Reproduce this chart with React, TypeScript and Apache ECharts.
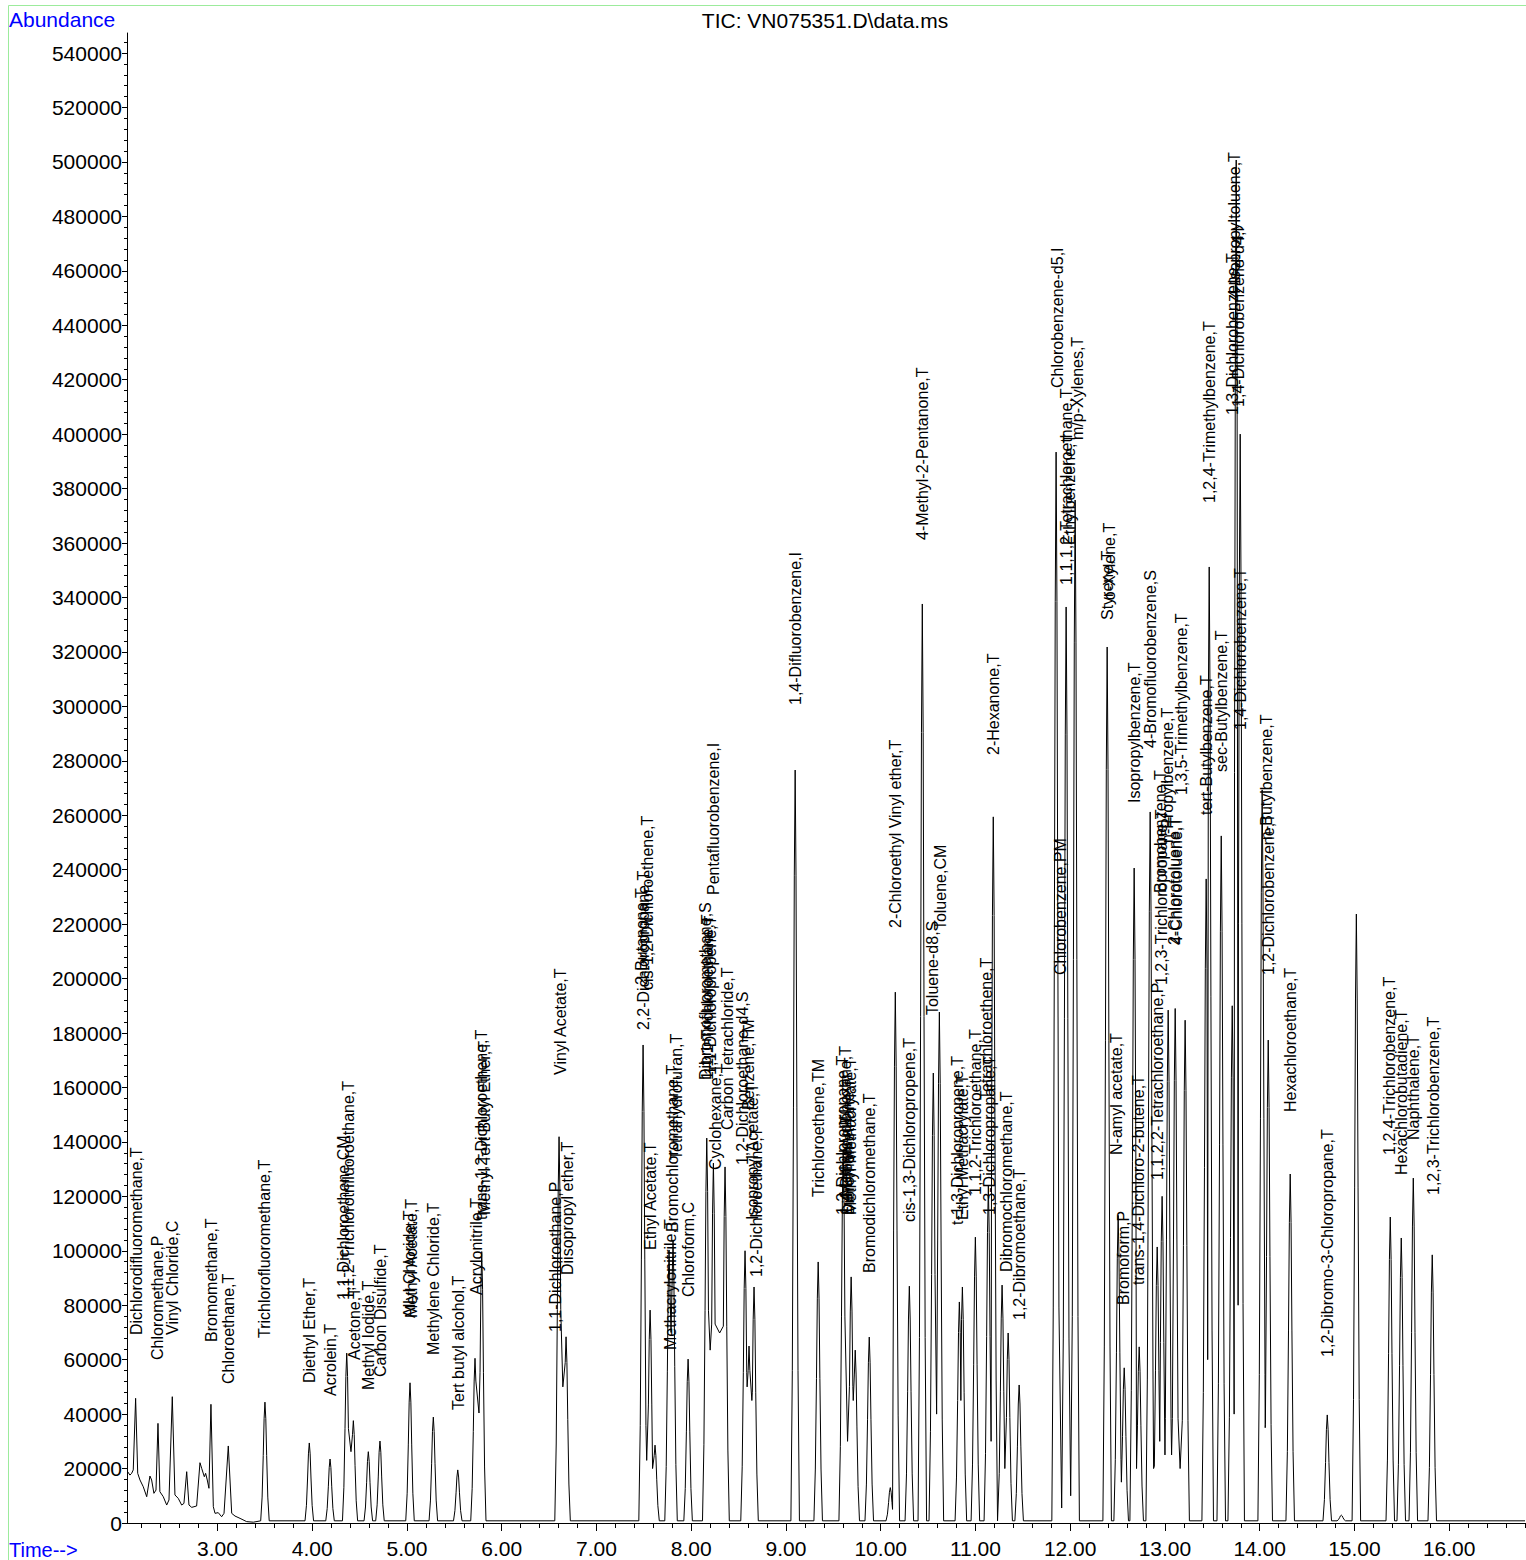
import React, { useEffect, useRef } from "react";
import * as echarts from "echarts";

// ---------- axis ranges & ticks ----------
const xMin = 2.045;
const xMax = 16.8;
const yMax = 547350;
const majorTimes = [3, 4, 5, 6, 7, 8, 9, 10, 11, 12, 13, 14, 15, 16];
const minorTimes = [
  2.2, 2.4, 2.6, 2.8, 3.2, 3.4, 3.6, 3.8, 4.2, 4.4, 4.6, 4.8, 5.2, 5.4, 5.6, 5.8,
  6.2, 6.4, 6.6, 6.8, 7.2, 7.4, 7.6, 7.8, 8.2, 8.4, 8.6, 8.8, 9.2, 9.4, 9.6, 9.8,
  10.2, 10.4, 10.6, 10.8, 11.2, 11.4, 11.6, 11.8, 12.2, 12.4, 12.6, 12.8, 13.2,
  13.4, 13.6, 13.8, 14.2, 14.4, 14.6, 14.8, 15.2, 15.4, 15.6, 15.8, 16.2, 16.4,
  16.6, 16.8,
];
const majorAbundance = [
  0, 20000, 40000, 60000, 80000, 100000, 120000, 140000, 160000, 180000, 200000,
  220000, 240000, 260000, 280000, 300000, 320000, 340000, 360000, 380000, 400000,
  420000, 440000, 460000, 480000, 500000, 520000, 540000,
];
const minorStep = 4000;

// ---------- signal data ----------
const baseline = 800;
// noisy early part of the trace, [time, abundance]
const earlyTrace: [number, number][] = [
  [2.052, 18850], [2.076, 17600], [2.094, 18250], [2.111, 19500], [2.136, 45800],
  [2.158, 18250], [2.182, 15800], [2.217, 13300], [2.253, 9650], [2.287, 17250],
  [2.305, 15800], [2.329, 10900], [2.351, 12100], [2.372, 36600], [2.392, 11500],
  [2.428, 9650], [2.464, 6600], [2.488, 8450], [2.523, 46400], [2.551, 10300],
  [2.586, 9050], [2.622, 6600], [2.646, 7200], [2.675, 18850], [2.699, 6600],
  [2.728, 5750], [2.78, 6250], [2.815, 22150], [2.833, 20100], [2.861, 17000],
  [2.875, 18250], [2.892, 15800], [2.91, 12750], [2.931, 43600], [2.956, 6000],
  [2.974, 3550], [3.008, 3800], [3.044, 2300], [3.069, 3550], [3.114, 28300],
  [3.15, 3550], [3.185, 2550], [3.238, 1700], [3.308, 500], [3.378, 300],
];
// peak apexes [retention time, abundance]
const peaks: [number, number][] = [
  [3.501, 44400], [3.969, 29400], [4.188, 23500], [4.364, 62400], [4.434, 37600],
  [4.592, 26200], [4.715, 30100], [5.032, 51500], [5.278, 38900], [5.536, 19500],
  [5.718, 60500], [5.789, 99700], [6.605, 141900], [6.679, 68400], [7.492, 175600],
  [7.566, 78200], [7.618, 28600], [7.766, 100300], [7.808, 104000], [7.967, 60200],
  [8.164, 141400], [8.234, 132200], [8.357, 130800], [8.568, 100000], [8.61, 65000],
  [8.663, 86700], [9.097, 276600], [9.34, 95900], [9.604, 137000], [9.688, 90400],
  [9.731, 63500], [9.879, 68300], [10.101, 13000], [10.154, 195000], [10.302, 87000],
  [10.439, 337600], [10.555, 165300], [10.619, 187700], [10.83, 81200], [10.862, 86700],
  [10.999, 105000], [11.136, 124000], [11.188, 259400], [11.281, 87400], [11.345, 69800],
  [11.461, 50700], [11.851, 393400], [11.957, 336500], [12.052, 375800], [12.39, 321800],
  [12.506, 113000], [12.57, 57000], [12.675, 240600], [12.728, 64700], [12.844, 261200],
  [12.918, 101400], [12.97, 120000], [13.034, 188400], [13.108, 189000], [13.213, 184700],
  [13.435, 236600], [13.467, 351200], [13.594, 252400], [13.71, 190000], [13.752, 500700],
  [13.794, 400000], [14.026, 269300], [14.09, 177400], [14.322, 128200], [14.713, 39700],
  [14.861, 2900], [15.02, 223700], [15.378, 112400], [15.494, 104700], [15.621, 126700],
  [15.821, 98500],
];
// valleys between co-eluting peaks [time, abundance]
const valleys: [number, number][] = [
  [4.409, 26200], [5.76, 40400], [6.645, 50000], [7.53, 23000], [7.592, 20000],
  [7.787, 70000], [8.2, 63500], [8.3, 69800], [8.59, 50000], [8.64, 45000],
  [9.65, 30000], [9.71, 45000], [10.125, 5000], [10.59, 40000], [10.846, 45000],
  [11.165, 30000], [11.31, 20000], [11.91, 5500], [12.005, 10000], [12.54, 15000],
  [12.7, 20000], [12.88, 20000], [12.945, 30000], [13.0, 25000], [13.07, 25000],
  [13.16, 20000], [13.451, 60000], [13.73, 40000], [13.772, 80000], [14.058, 35000],
];

// compound labels [name, retention time, abundance at label start]
const peakLabels: [string, number, number][] = [
  ["Dichlorodifluoromethane,T", 2.14, 69060],
  ["Chloromethane,P", 2.372, 59880],
  ["Vinyl Chloride,C", 2.52, 69060],
  ["Bromomethane,T", 2.932, 66490],
  ["Chloroethane,T", 3.111, 51060],
  ["Trichlorofluoromethane,T", 3.501, 67960],
  ["Diethyl Ether,T", 3.966, 51430],
  ["Acrolein,T", 4.188, 46650],
  ["1,1-Dichloroethene,CM", 4.335, 81920],
  ["1,1,2-Trichlorotrifluoroethane,T", 4.378, 81920],
  ["Acetone,T", 4.441, 59880],
  ["Methyl Iodide,T", 4.589, 48860],
  ["Carbon Disulfide,T", 4.716, 53630],
  ["Allyl Chloride,T", 5.022, 75300],
  ["Methyl Acetate,T", 5.043, 75300],
  ["Methylene Chloride,T", 5.276, 61720],
  ["Tert butyl alcohol,T", 5.539, 41510],
  ["Acrylonitrile,T", 5.729, 83760],
  ["trans-1,2-Dichloroethene,T", 5.782, 111300],
  ["Methyl Tert Butyl Ether,T", 5.813, 113150],
  ["1,1-Dichloroethane,P", 6.563, 70160],
  ["Vinyl Acetate,T", 6.616, 164600],
  ["Diisopropyl ether,T", 6.69, 91100],
  ["2,2-Dichloropropane,T", 7.492, 181100],
  ["cis-1,2-Dichloroethene,T", 7.534, 195800],
  ["2-Butanone,T", 7.47, 197600],
  ["Ethyl Acetate,T", 7.566, 100300],
  ["Methacrylonitrile,T", 7.777, 63550],
  ["Bromochloromethane,T", 7.798, 106900],
  ["Tetrahydrofuran,T", 7.84, 133350],
  ["Chloroform,C", 7.967, 83020],
  ["Dibromofluoromethane,S", 8.146, 162700],
  ["1,1,1-Trichloroethane,T", 8.167, 162700],
  ["1,1-Dichloropropene,T", 8.199, 164600],
  ["Cyclohexane,T", 8.252, 129700],
  ["Pentafluorobenzene,I", 8.231, 230700],
  ["Carbon Tetrachloride,T", 8.379, 144400],
  ["1,2-Dichloroethane-d4,S", 8.537, 131500],
  ["Benzene,TM", 8.6, 151700],
  ["Isopropyl Acetate,T", 8.642, 111300],
  ["1,2-Dichloroethane,T", 8.684, 90370],
  ["1,4-Difluorobenzene,I", 9.097, 300500],
  ["Trichloroethene,TM", 9.34, 119760],
  ["1,2-Dichloropropane,T", 9.593, 113150],
  ["Methylcyclohexane,T", 9.625, 120000],
  ["1,4-Dioxane,T", 9.636, 113150],
  ["Dibromomethane,T", 9.656, 113150],
  ["Methyl Methacrylate,T", 9.678, 113150],
  ["Bromodichloromethane,T", 9.878, 91840],
  ["2-Chloroethyl Vinyl ether,T", 10.153, 218600],
  ["cis-1,3-Dichloropropene,T", 10.301, 110570],
  ["4-Methyl-2-Pentanone,T", 10.438, 361100],
  ["Toluene-d8,S", 10.544, 186600],
  ["Toluene,CM", 10.627, 217800],
  ["t-1,3-Dichloropropene,T", 10.807, 109470],
  ["Ethyl Methacrylate,T", 10.86, 111300],
  ["1,1,2-Trichloroethane,T", 10.998, 120490],
  ["Tetrachloroethene,T", 11.114, 155390],
  ["1,3-Dichloropropane,T", 11.146, 113150],
  ["2-Hexanone,T", 11.188, 282130],
  ["Dibromochloromethane,T", 11.325, 92200],
  ["1,2-Dibromoethane,T", 11.462, 74570],
  ["Chlorobenzene-d5,I", 11.863, 416940],
  ["Chlorobenzene,PM", 11.895, 201300],
  ["1,1,1,2-Tetrachloroethane,T", 11.958, 344600],
  ["Ethylbenzene,T", 11.99, 359300],
  ["m/p-Xylenes,T", 12.073, 397840],
  ["Styrene,T", 12.39, 331700],
  ["o-Xylene,T", 12.411, 339000],
  ["N-amyl acetate,T", 12.484, 135200],
  ["Bromoform,P", 12.558, 80080],
  ["Isopropylbenzene,T", 12.675, 264500],
  ["trans-1,4-Dichloro-2-butene,T", 12.717, 87430],
  ["4-Bromofluorobenzene,S", 12.844, 284700],
  ["1,1,2,2-Tetrachloroethane,P", 12.918, 126000],
  ["Bromobenzene,T", 12.949, 231400],
  ["1,2,3-Trichloropropane,T", 12.96, 197600],
  ["n-Propylbenzene,T", 13.024, 249800],
  ["2-Chlorotoluene,T", 13.097, 212300],
  ["4-Chlorotoluene,T", 13.119, 212300],
  ["1,3,5-Trimethylbenzene,T", 13.171, 267400],
  ["tert-Butylbenzene,T", 13.435, 260100],
  ["1,2,4-Trimethylbenzene,T", 13.467, 374700],
  ["sec-Butylbenzene,T", 13.594, 275900],
  ["1,3-Dichlorobenzene,T", 13.71, 407000],
  ["4-Isopropyltoluene,T", 13.731, 450000],
  ["1,4-Dichlorobenzene-d4,I", 13.773, 410000],
  ["1,4-Dichlorobenzene,T", 13.794, 291300],
  ["n-Butylbenzene,T", 14.069, 250900],
  ["1,2-Dichlorobenzene,T", 14.09, 201300],
  ["Hexachloroethane,T", 14.322, 151000],
  ["1,2-Dibromo-3-Chloropropane,T", 14.713, 61000],
  ["1,2,4-Trichlorobenzene,T", 15.368, 135200],
  ["Hexachlorobutadiene,T", 15.494, 127840],
  ["Naphthalene,T", 15.621, 140700],
  ["1,2,3-Trichlorobenzene,T", 15.832, 120500],
];

// peak outline (offset in minutes, fraction of height) used to draw each apex
const peakProfile: [number, number][] = [
  [0.009, 0.86], [0.018, 0.55], [0.03, 0.2], [0.045, 0],
];

function buildTrace(): [number, number][] {
  type Ev = { t: number; v: number; apex: boolean };
  const events: Ev[] = [
    ...peaks.map(([t, v]) => ({ t, v, apex: true })),
    ...valleys.map(([t, v]) => ({ t, v, apex: false })),
  ].sort((a, b) => a.t - b.t);
  const pts: [number, number][] = [];
  events.forEach((e, i) => {
    pts.push([e.t, e.v]);
    if (!e.apex) return;
    for (const side of [-1, 1]) {
      const nb = events[i + side];
      for (const [d, f] of peakProfile) {
        const val = baseline + f * (e.v - baseline);
        if (nb) {
          const dist = Math.abs(nb.t - e.t);
          if (!nb.apex) {
            if (d >= dist - 0.002 || val <= nb.v) continue;
          } else if (d >= dist / 2) continue;
        }
        pts.push([e.t + side * d, val]);
      }
    }
  });
  pts.sort((a, b) => a[0] - b[0]);
  return [...earlyTrace, ...pts, [xMax, baseline]];
}

const FONT = '"Liberation Sans", Arial, sans-serif';

export default function App() {
  const ref = useRef<HTMLDivElement>(null);
  useEffect(() => {
    if (!ref.current) return;
    const chart = echarts.init(ref.current, null, { renderer: "svg" });
    const minorAbundance: number[] = [];
    majorAbundance.forEach((m) => {
      for (let k = 1; k < 5; k++) {
        const v = m + k * minorStep;
        if (v < yMax) minorAbundance.push(v);
      }
    });
    const grid = { left: 127, right: 1, top: 33, bottom: 37 };
    chart.setOption({
      animation: false,
      backgroundColor: "#ffffff",
      grid,
      xAxis: [
        {
          type: "value",
          min: xMin,
          max: xMax,
          position: "bottom",
          axisLine: { show: true, onZero: false, lineStyle: { color: "#000", width: 1 } },
          axisTick: { show: true, customValues: majorTimes, length: 8, lineStyle: { color: "#000" } },
          axisLabel: {
            show: true,
            customValues: majorTimes,
            formatter: (v: number) => v.toFixed(2),
            color: "#000",
            fontSize: 21,
            fontFamily: FONT,
            margin: 15,
          },
          splitLine: { show: false },
        },
        {
          type: "value",
          min: xMin,
          max: xMax,
          position: "bottom",
          offset: 0,
          axisLine: { show: false },
          axisTick: { show: true, customValues: minorTimes, length: 5, lineStyle: { color: "#000" } },
          axisLabel: { show: false },
          splitLine: { show: false },
        },
      ],
      yAxis: [
        {
          type: "value",
          min: 0,
          max: yMax,
          position: "left",
          axisLine: { show: true, onZero: false, lineStyle: { color: "#000", width: 1 } },
          axisTick: { show: true, customValues: majorAbundance, length: 5, lineStyle: { color: "#000" } },
          axisLabel: {
            show: true,
            customValues: majorAbundance,
            color: "#000",
            fontSize: 21,
            fontFamily: FONT,
            margin: 5,
            formatter: (v: number) => String(v),
          },
          splitLine: { show: false },
        },
        {
          type: "value",
          min: 0,
          max: yMax,
          position: "left",
          offset: 0,
          axisLine: { show: false },
          axisTick: { show: true, customValues: minorAbundance, length: 3, lineStyle: { color: "#000" } },
          axisLabel: { show: false },
          splitLine: { show: false },
        },
      ],
      graphic: [
        {
          type: "polyline",
          shape: { points: [[8.5, 1560], [8.5, 5.5], [1526, 5.5]] },
          style: { stroke: "#9ceb9c", lineWidth: 1, fill: null },
          silent: true,
        },
        {
          type: "text",
          left: 9,
          top: 9,
          style: { text: "Abundance", fill: "#0000ff", font: `21px ${FONT}` },
          silent: true,
        },
        {
          type: "text",
          x: 825,
          y: 20,
          style: {
            text: "TIC: VN075351.D\\data.ms",
            fill: "#000",
            font: `21px ${FONT}`,
            align: "center",
            verticalAlign: "middle",
            textAlign: "center",
            textVerticalAlign: "middle",
          },
          silent: true,
        },
        {
          type: "text",
          x: 9,
          y: 1550,
          style: {
            text: "Time-->",
            fill: "#0000ff",
            font: `20px ${FONT}`,
            lineHeight: 18,
            align: "left",
            verticalAlign: "middle",
            textAlign: "left",
            textVerticalAlign: "middle",
          },
          silent: true,
        },
      ],
      series: [
        {
          type: "line",
          xAxisIndex: 0,
          yAxisIndex: 0,
          data: buildTrace(),
          showSymbol: false,
          symbol: "none",
          lineStyle: { color: "#000", width: 1 },
          silent: true,
          z: 2,
        },
        {
          type: "custom",
          xAxisIndex: 0,
          yAxisIndex: 0,
          data: peakLabels.map(([, t, v]) => [t, v]),
          encode: { x: 0, y: 1 },
          silent: true,
          z: 3,
          renderItem: (params: any, api: any) => {
            const p = api.coord([api.value(0), api.value(1)]);
            return {
              type: "text",
              x: p[0],
              y: p[1],
              rotation: Math.PI / 2,
              style: {
                text: peakLabels[params.dataIndex][0],
                fill: "#000",
                font: `16px ${FONT}`,
                align: "left",
                verticalAlign: "middle",
                textAlign: "left",
                textVerticalAlign: "middle",
              },
            };
          },
        },
      ],
    });
    return () => chart.dispose();
  }, []);
  return (
    <div
      ref={ref}
      style={{ position: "absolute", left: 0, top: 0, width: 1526, height: 1560 }}
    />
  );
}
